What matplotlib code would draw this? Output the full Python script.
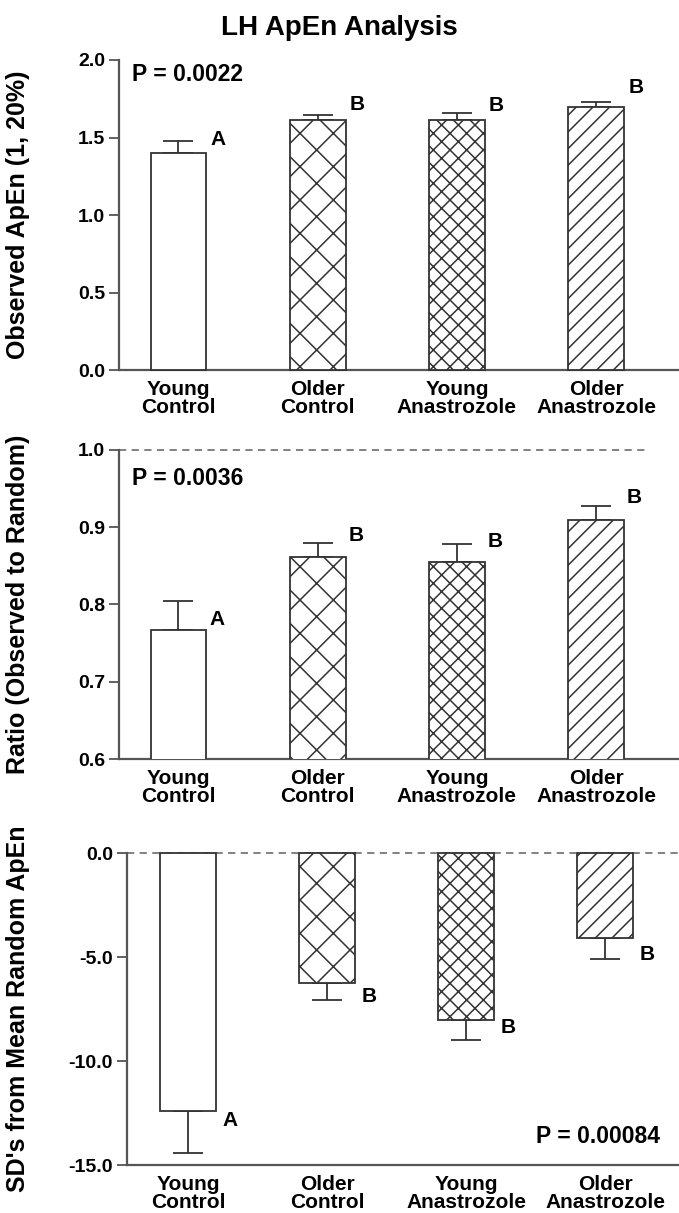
"""
LH ApEn analysis: three stacked bar panels (observed ApEn, ratio to random,
SDs from mean random ApEn) for the four study groups.
"""
import numpy as np
import matplotlib
matplotlib.use('Agg')
import matplotlib.pyplot as plt

# ── data ──────────────────────────────────────────────────────────────────
groups  = ['Young\nControl', 'Older\nControl', 'Young\nAnastrozole', 'Older\nAnastrozole']
letters = ['A', 'B', 'B', 'B']
hatches = ['', 'x', 'xx', '//']

apen     = [1.40, 1.61, 1.61, 1.70]
apen_err = [0.077, 0.032, 0.045, 0.030]

ratio     = [0.767, 0.861, 0.855, 0.910]
ratio_err = [0.037, 0.018, 0.023, 0.017]

sds     = [-12.40, -6.25, -8.05, -4.10]
sds_err = [2.01, 0.81, 0.96, 0.98]

# letter anchors (data y)
apen_lab_y  = [1.49, 1.716, 1.705, 1.823]
ratio_lab_y = [0.780, 0.889, 0.882, 0.939]
sds_lab_y   = [-12.86, -6.90, -8.39, -4.86]

p_texts = ['P = 0.0022', 'P = 0.0036', 'P = 0.00084']

# ── style ─────────────────────────────────────────────────────────────────
plt.rcParams['font.family'] = ['Liberation Sans', 'DejaVu Sans']
plt.rcParams['font.weight'] = 'bold'
plt.rcParams['axes.unicode_minus'] = False
plt.rcParams['hatch.linewidth'] = 1.1
plt.rcParams['hatch.color'] = '#222222'

SPINE = '#555555'
EDGE  = '#333333'
DASH  = '#777777'

W, H = 679, 1213
fig = plt.figure(figsize=(W / 100, H / 100), dpi=100)

x = np.arange(len(groups))
bw = 0.40

def style_axis(ax):
    for s in ('top', 'right'):
        ax.spines[s].set_visible(False)
    for s in ('left', 'bottom'):
        ax.spines[s].set_color(SPINE)
        ax.spines[s].set_linewidth(1.6)
    ax.tick_params(axis='y', direction='out', length=7, width=1.3,
                   color=SPINE, labelsize=14, pad=3)
    ax.tick_params(axis='x', length=0, pad=7)
    ax.set_xticks(x)
    ax.set_xticklabels(groups, fontsize=15, fontweight='bold', linespacing=0.92)
    for t in ax.get_yticklabels():
        t.set_fontweight('bold')

def draw_bars(ax, vals, errs, up=True, clip=True):
    bars = ax.bar(x, vals, width=bw, color='white', edgecolor=EDGE,
                  linewidth=1.3, zorder=3, clip_on=clip)
    for b, h in zip(bars, hatches):
        if h:
            b.set_hatch(h)
    errs = np.asarray(errs)
    zeros = np.zeros_like(errs)
    yerr = [zeros, errs] if up else [errs, zeros]
    ax.errorbar(x, vals, yerr=yerr, fmt='none', ecolor=EDGE,
                elinewidth=1.3, capsize=11, capthick=1.3, zorder=2,
                clip_on=False)

# ── panel 1: observed ApEn ────────────────────────────────────────────────
ax1 = fig.add_axes([119 / W, 1 - 370 / H, 1 - 119 / W, 310 / H])
draw_bars(ax1, apen, apen_err, clip=False)
ax1.set_xlim(-0.427, 3.595)
ax1.set_ylim(0, 2.0)
ax1.set_yticks([0, 0.5, 1.0, 1.5, 2.0])
ax1.set_yticklabels([f'{v:.1f}' for v in [0, 0.5, 1.0, 1.5, 2.0]])
for xi, ly, lt in zip(x, apen_lab_y, letters):
    ax1.text(xi + 0.23, ly, lt, fontsize=15, fontweight='bold', va='center', ha='left')
ax1.text(-0.334, 1.908, p_texts[0], fontsize=16.5, fontweight='bold', va='center', ha='left')
ax1.set_ylabel('Observed ApEn (1, 20%)', fontsize=18, fontweight='bold')
ax1.yaxis.set_label_coords(-0.159, 0.5)
style_axis(ax1)

# ── panel 2: ratio observed / random ──────────────────────────────────────
ax2 = fig.add_axes([119 / W, 1 - 759 / H, 1 - 119 / W, 309 / H])
draw_bars(ax2, ratio, ratio_err, clip=True)
ax2.set_xlim(-0.427, 3.595)
ax2.set_ylim(0.6, 1.0)
ax2.set_yticks([0.6, 0.7, 0.8, 0.9, 1.0])
ax2.set_yticklabels([f'{v:.1f}' for v in [0.6, 0.7, 0.8, 0.9, 1.0]])
ax2.plot([-0.427, 3.38], [1.0, 1.0], ls=(0, (4, 3)), color=DASH, lw=1.3,
         clip_on=False, zorder=1)
for xi, ly, lt in zip(x, ratio_lab_y, letters):
    ax2.text(xi + 0.22, ly, lt, fontsize=15, fontweight='bold', va='center', ha='left')
ax2.text(-0.334, 0.9626, p_texts[1], fontsize=16.5, fontweight='bold', va='center', ha='left')
ax2.set_ylabel('Ratio (Observed to Random)', fontsize=18, fontweight='bold')
ax2.yaxis.set_label_coords(-0.159, 0.5)
style_axis(ax2)

# ── panel 3: SDs from mean random ApEn ────────────────────────────────────
ax3 = fig.add_axes([127 / W, 1 - 1165 / H, 1 - 127 / W, 312 / H])
draw_bars(ax3, sds, sds_err, up=False, clip=False)
ax3.set_xlim(-0.439, 3.53)
ax3.set_ylim(-15.0, 0.0)
ax3.set_yticks([-15, -10, -5, 0])
ax3.set_yticklabels([f'{v:.1f}' for v in [-15.0, -10.0, -5.0, 0.0]])
ax3.plot([-0.439, 3.53], [0, 0], ls=(0, (4, 3)), color=DASH, lw=1.3,
         clip_on=False, zorder=1)
for xi, ly, lt in zip(x, sds_lab_y, letters):
    ax3.text(xi + 0.25, ly, lt, fontsize=15, fontweight='bold', va='center', ha='left')
ax3.text(2.5, -13.64, p_texts[2], fontsize=16.5, fontweight='bold', va='center', ha='left')
ax3.set_ylabel("SD's from Mean Random ApEn", fontsize=18, fontweight='bold')
ax3.yaxis.set_label_coords(-0.176, 0.5)
style_axis(ax3)

fig.text(0.5, 1 - 28 / H, 'LH ApEn Analysis', fontsize=20, fontweight='bold',
         ha='center', va='center')

fig.savefig('out.png', dpi=100)
